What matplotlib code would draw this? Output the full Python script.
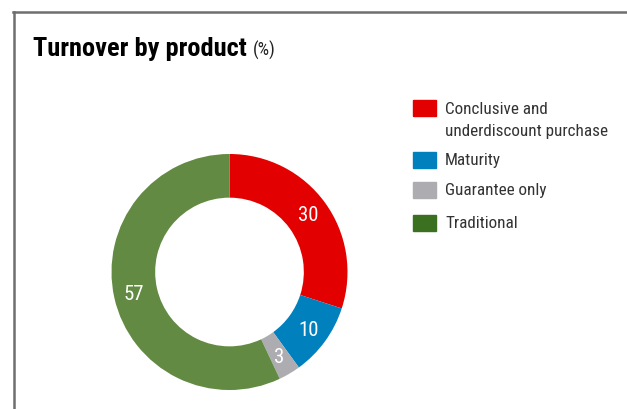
import matplotlib
matplotlib.use("Agg")
import matplotlib.pyplot as plt
from matplotlib.patches import Rectangle
from matplotlib.lines import Line2D
import numpy as np

categories = ["Conclusive and\nunderdiscount purchase", "Maturity", "Guarantee only", "Traditional"]
values = [30, 10, 3, 57]
wedge_colors = ["#e30000", "#0080bd", "#adadb1", "#628a43"]
legend_colors = ["#e30000", "#0080bd", "#adadb1", "#3b7020"]

W, H = 627, 410
fig = plt.figure(figsize=(W / 100, H / 100), dpi=100)
FONT = ["Roboto Condensed", "Archivo Narrow", "DejaVu Sans"]

def fx(px):
    return px / W

def fy(py):
    return 1 - py / H

# frame lines
fig.add_artist(Line2D([fx(13), fx(627)], [fy(13), fy(13)], color="#6e6e6e", lw=1.8))
fig.add_artist(Line2D([fx(14), fx(14)], [fy(13), fy(410)], color="#6e6e6e", lw=1.8))

# title
t = fig.text(fx(33), fy(56), "Turnover by product", fontsize=19, fontweight="bold",
             family=FONT, color="black", va="baseline")
fig.canvas.draw()
bb = t.get_window_extent()
fig.text(bb.x1 / W + fx(6), fy(56), "(%)", fontsize=13, family=FONT, color="#222222", va="baseline")

# donut
cx, cy, R = 229.5, 273, 118
ax = fig.add_axes([fx(cx - R), (H - cy - R) / H, 2 * R / W, 2 * R / H])
wedges, _ = ax.pie(values, colors=wedge_colors, startangle=90, counterclock=False,
                   radius=1, wedgeprops=dict(width=0.37, edgecolor="none"))
ax.set_xlim(-1, 1)
ax.set_ylim(-1, 1)
ax.set_aspect("equal")
ax.axis("off")

for w, v in zip(wedges, values):
    ang = np.deg2rad((w.theta1 + w.theta2) / 2)
    r = 0.83
    ax.text(r * np.cos(ang), r * np.sin(ang), str(v), color="white", fontsize=15,
            family=FONT, ha="center", va="center")

# legend
legend_tops = [101, 153, 183, 216]
for lab, col, top in zip(categories, legend_colors, legend_tops):
    fig.add_artist(Rectangle((fx(413), fy(top + 16)), fx(23), 16 / H, color=col,
                             transform=fig.transFigure))
    fig.text(fx(445), fy(top + 0.5), lab, fontsize=12.3, family=FONT, color="#333333",
             va="top", linespacing=1.65)

fig.savefig("out.png", dpi=100)
